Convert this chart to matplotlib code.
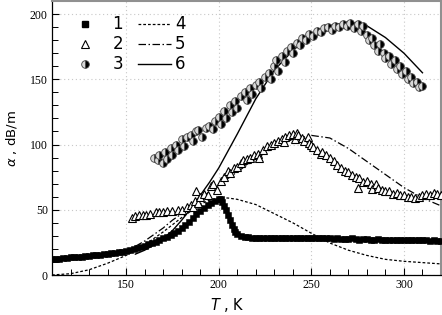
import matplotlib
matplotlib.use("Agg")
import matplotlib.pyplot as plt
import numpy as np
from matplotlib.lines import Line2D
from matplotlib.ticker import MultipleLocator

# ---- data ----
T1 = [110, 112, 114, 116, 118, 120, 122, 124, 126, 128, 130, 132, 134, 136, 138, 140,
      142, 144, 146, 148, 150, 152, 154, 156, 158, 160, 162, 164, 166, 168, 170, 172,
      174, 176, 178, 180, 182, 184, 186, 188, 190, 192, 194, 196, 198, 200, 201, 202,
      203, 204, 205, 206, 207, 208, 209, 210, 212, 214, 216, 218, 220, 222, 224, 226,
      228, 230, 232, 234, 236, 238, 240, 242, 244, 246, 248, 250, 252, 254, 256, 258,
      260, 262, 264, 266, 268, 270, 272, 274, 276, 278, 280, 282, 284, 286, 288, 290,
      292, 294, 296, 298, 300, 302, 304, 306, 308, 310, 312, 314, 316, 318, 320]
A1 = [12, 12, 12.5, 13, 13, 13.5, 13.5, 14, 14, 14.5, 14.5, 15, 15, 15.5, 16, 16,
      16.5, 17, 17.5, 18, 18.5, 19, 20, 20.5, 21.5, 22.5, 23.5, 24.5, 25.5, 26.5, 28, 29,
      30.5, 32, 34, 36, 38.5, 41, 44, 46.5, 49, 51.5, 53.5, 55.5, 57, 58, 58, 56,
      53, 50, 46, 42, 38, 35, 33, 31.5, 30, 29.5, 29, 28.5, 28.5, 28, 28.5, 28,
      28, 28.5, 28, 28, 28.5, 28, 28, 28.5, 28, 28, 28.5, 28.5, 28, 28, 28.5, 28,
      28, 27.5, 28, 27.5, 27.5, 27.5, 28, 27.5, 27, 27.5, 27.5, 27, 27, 27.5, 27, 27,
      27, 26.5, 27, 26.5, 27, 26.5, 26.5, 26.5, 27, 26.5, 26.5, 26, 26.5, 26, 26]

T2 = [153, 155, 157, 159, 161, 163, 166, 168, 170, 172, 175, 178, 180, 183, 185, 186,
      187, 188, 189, 190, 192, 194, 196, 197, 199, 201, 203, 205, 206, 208, 210, 212,
      213, 215, 217, 219, 221, 222, 224, 226, 228, 230, 232, 234, 235, 236, 238, 240,
      241, 242, 243, 245, 246, 248, 249, 250, 251, 253, 255, 256, 258, 260, 262, 264,
      266, 268, 270, 272, 274, 275, 276, 278, 280, 282, 283, 285, 286, 288, 290, 292,
      294, 296, 298, 300, 302, 304, 306, 308, 310, 312, 314, 316, 318, 320]
A2 = [44, 45, 46, 46, 46, 47, 48, 48, 48, 49, 49, 50, 50, 52, 54, 52,
      57, 64, 55, 60, 62, 61, 68, 70, 65, 72, 75, 80, 78, 82, 83, 86,
      88, 89, 90, 92, 93, 90, 96, 99, 100, 101, 103, 104, 102, 106, 107, 108,
      104, 109, 107, 105, 103, 106, 101, 100, 98, 96, 93, 94, 92, 90, 87, 84,
      82, 80, 79, 77, 75, 67, 74, 71, 72, 70, 66, 70, 67, 65, 64, 64,
      62, 63, 61, 61, 60, 60, 59, 60, 61, 62, 61, 63, 62, 61]

T3 = [165, 167, 168, 170, 171, 172, 174, 175, 177, 178, 180, 181, 183, 185, 186, 188,
      189, 191, 193, 195, 197, 198, 200, 201, 203, 204, 206, 207, 209, 210, 212, 214,
      215, 217, 218, 220, 222, 223, 225, 227, 228, 230, 231, 232, 234, 236, 237, 239,
      240, 242, 244, 245, 247, 249, 251, 253, 255, 257, 259, 261, 263, 265, 267, 269,
      271, 273, 275, 277, 278, 280, 281, 283, 284, 286, 287, 289, 290, 292, 293, 295,
      296, 298, 299, 301, 302, 304, 305, 307, 308, 310]
A3 = [90, 88, 92, 86, 94, 89, 97, 92, 100, 96, 104, 99, 106, 107, 103, 110,
      111, 106, 113, 114, 112, 118, 121, 116, 126, 120, 130, 125, 133, 128, 137, 140,
      134, 143, 139, 146, 148, 143, 152, 155, 150, 160, 165, 156, 168, 163, 172, 175,
      170, 178, 176, 182, 180, 185, 183, 187, 186, 189, 190, 188, 191, 190, 192, 191,
      193, 189, 192, 187, 191, 184, 180, 182, 176, 172, 177, 170, 166, 168, 162, 165,
      158, 160, 154, 156, 150, 152, 147, 148, 144, 145]

T4 = [110, 120, 130, 140, 150, 160, 170, 180, 185, 190, 195, 200, 205, 210, 220, 230,
      240, 250, 260, 270, 280, 290, 300, 310, 320]
A4 = [0, 1, 4, 9, 15, 23, 33, 44, 49, 54, 57.5, 59, 59, 58, 54, 47,
      40, 32, 24.5, 19, 15, 12, 10.5, 9.5, 8.5]

T5 = [155, 160, 165, 170, 175, 180, 185, 190, 195, 200, 210, 220, 230, 240, 250, 260,
      270, 280, 290, 300, 310, 320]
A5 = [22, 26, 31, 36, 42, 47, 53, 58, 64, 69, 79, 89, 98, 104, 107, 105,
      97, 87, 77, 67, 59, 53]

T6 = [155, 160, 165, 170, 175, 180, 185, 190, 195, 200, 205, 210, 220, 230, 240, 250,
      260, 270, 280, 290, 300, 310]
A6 = [16, 19, 23, 28, 34, 42, 51, 61, 71, 82, 95, 108, 135, 157, 172, 184,
      191, 194, 191, 182, 170, 155]

legend_labels = ["1", "2", "3", "4", "5", "6"]
xticks = [150, 200, 250, 300]
yticks = [0, 50, 100, 150, 200]

plt.rcParams['mathtext.fontset'] = 'dejavusans'

fig = plt.figure(figsize=(4.42, 3.15), dpi=100)
ax = fig.add_axes([52 / 442, 40 / 315, 389 / 442, 274 / 315])

ax.grid(True, which='major', linestyle=(0, (1, 2.5)), color='#c8c8c8', linewidth=0.8)
ax.set_axisbelow(True)

ax.plot(T4, A4, color='black', linestyle=(0, (2.2, 1.6)), linewidth=0.9, zorder=2)
ax.plot(T5, A5, color='black', linestyle=(0, (6, 2, 1.2, 2)), linewidth=0.9, zorder=2)
ax.plot(T6, A6, color='black', linestyle='-', linewidth=1.0, zorder=2)

ax.plot(T1, A1, linestyle='none', marker='s', markersize=5, color='black',
        markeredgewidth=0.4, zorder=3)
ax.plot(T2, A2, linestyle='none', marker='^', markersize=6, markerfacecolor='white',
        markeredgecolor='black', markeredgewidth=0.8, zorder=4)
ax.plot(T3, A3, linestyle='none', marker='o', markersize=5.5, fillstyle='right',
        markerfacecolor='black', markerfacecoloralt='#d8d8d8',
        markeredgecolor='#444444', markeredgewidth=0.6, zorder=4)

ax.set_xlim(110, 320)
ax.set_ylim(0, 210)
ax.set_xticks(xticks)
ax.set_yticks(yticks)
ax.xaxis.set_minor_locator(MultipleLocator(10))
ax.yaxis.set_minor_locator(MultipleLocator(10))
ax.tick_params(which='both', direction='in', top=False, right=False,
               labelsize=8.5, pad=3)
ax.tick_params(which='major', length=5, width=0.8)
ax.tick_params(which='minor', length=4, width=0.7)
for lab in ax.get_xticklabels() + ax.get_yticklabels():
    lab.set_fontfamily('Liberation Serif')

for s in ['left', 'bottom']:
    ax.spines[s].set_color('black')
    ax.spines[s].set_linewidth(0.9)
for s in ['top', 'right']:
    ax.spines[s].set_color('#909090')
    ax.spines[s].set_linewidth(1.5)

ax.set_xlabel(r'$T$ , K', fontsize=10.5)
ax.set_ylabel(r'$\alpha$ , dB/m', fontsize=9.5)
ax.xaxis.set_label_coords(0.45, -0.075)
ax.yaxis.set_label_coords(-0.085, 0.5)

h1 = [Line2D([], [], linestyle='none', marker='s', markersize=4.2, color='black'),
      Line2D([], [], linestyle='none', marker='^', markersize=6, markerfacecolor='white',
             markeredgecolor='black', markeredgewidth=0.8),
      Line2D([], [], linestyle='none', marker='o', markersize=5.5, fillstyle='right',
             markerfacecolor='black', markerfacecoloralt='#d8d8d8',
             markeredgecolor='#444444', markeredgewidth=0.6)]
leg1 = ax.legend(h1, legend_labels[:3], loc='upper left', bbox_to_anchor=(0.033, 0.99),
                 frameon=False, fontsize=12, handlelength=1.0, handletextpad=1.15,
                 labelspacing=0.12, borderpad=0.2)
ax.add_artist(leg1)
h2 = [Line2D([], [], color='black', linestyle=(0, (2.2, 1.6)), linewidth=0.9),
      Line2D([], [], color='black', linestyle=(0, (6, 2, 1.2, 2)), linewidth=0.9),
      Line2D([], [], color='black', linestyle='-', linewidth=1.0)]
ax.legend(h2, legend_labels[3:], loc='upper left', bbox_to_anchor=(0.19, 0.99),
          frameon=False, fontsize=12, handlelength=2.0, handletextpad=0.25,
          labelspacing=0.12, borderpad=0.2)

fig.savefig('out.png', dpi=100)
